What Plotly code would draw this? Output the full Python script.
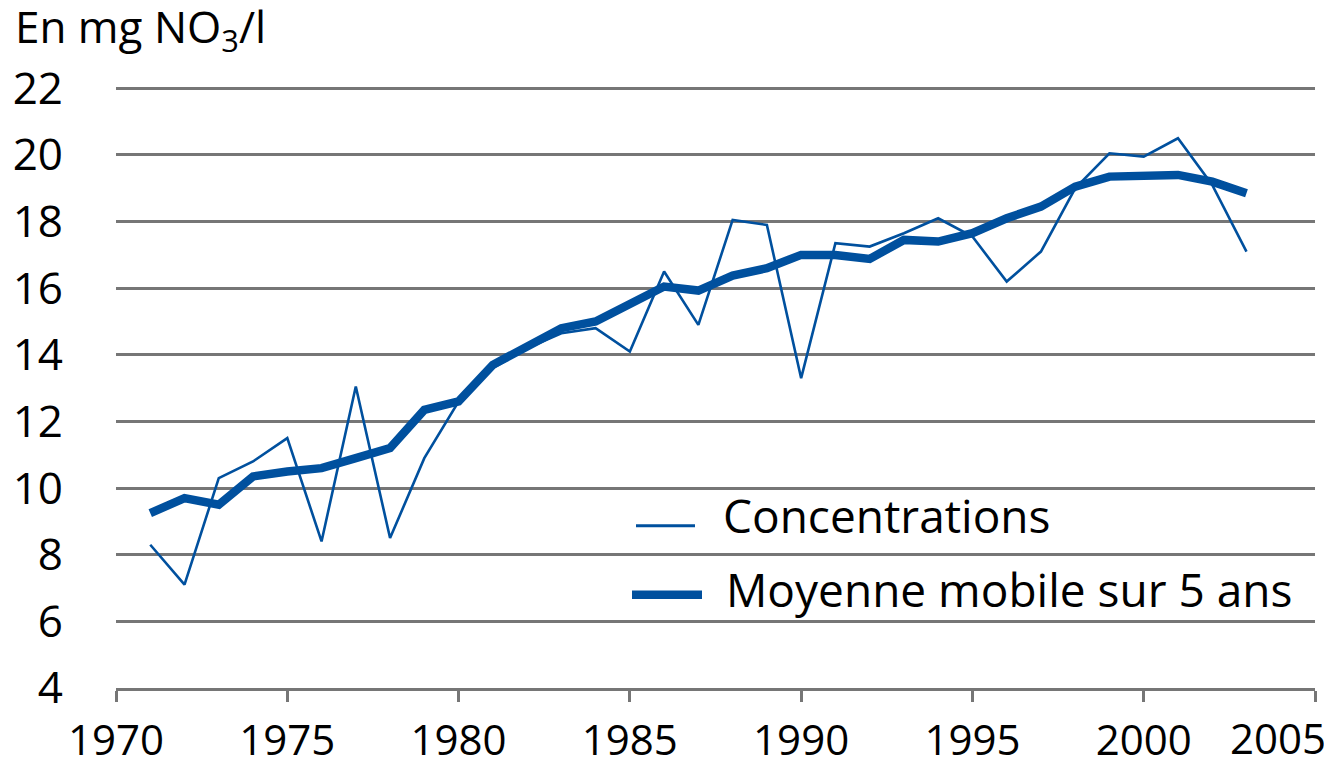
import plotly.graph_objects as go

years = list(range(1971, 2004))
concentrations = [8.3, 7.1, 10.3, 10.8, 11.5, 8.4, 13.05, 8.5, 10.9, 12.6,
                  13.6, 14.2, 14.65, 14.8, 14.1, 16.5, 14.9, 18.05, 17.9, 13.3,
                  17.35, 17.25, 17.65, 18.1, 17.55, 16.2, 17.1, 19.0, 20.05, 19.95,
                  20.5, 19.1, 17.1]
moyenne_mobile = [9.25, 9.7, 9.5, 10.35, 10.5, 10.6, 10.9, 11.2, 12.35, 12.6,
                  13.7, 14.25, 14.8, 15.0, 15.5, 16.05, 15.93, 16.38, 16.6, 17.0,
                  17.0, 16.88, 17.45, 17.4, 17.65, 18.1, 18.45, 19.05, 19.35, 19.35,
                  19.4, 19.2, 18.85]
x_ticks = [1970, 1975, 1980, 1985, 1990, 1995, 2000]
x_ticktext = ["1970", "1975", "1980", "1985", "1990", "1995", "2000"]
last_x_tick = 2005
last_x_label = "2005"
y_ticks = [4, 6, 8, 10, 12, 14, 16, 18, 20, 22]
series_names = ["Concentrations", "Moyenne mobile sur 5 ans"]
y_title = "En mg NO<sub>3</sub>/l"

BLUE = "#00509E"
GRID = "#767676"
FONT = "Open Sans"

# page body has an 8px margin: figure drawn at (8, 8) in the window
OFF = 8
FIG_W, FIG_H = 1332 - OFF, 770 - OFF

# plot area in figure pixels (screen target minus offset)
L = 116 - OFF
R = 1315 - OFF
Y22 = 88.3 - OFF
B = 688.3 - OFF
UNIT = (B - Y22) / 18.0
Y_TOP = 22.1
T = B - (Y_TOP - 4) * UNIT
W, H = R - L, B - T


def px(x_screen):
    return (x_screen - OFF - L) / W


def py(y_screen):
    return (B - (y_screen - OFF)) / H


fig = go.Figure()
fig.add_trace(go.Scatter(x=years, y=concentrations, mode="lines",
                         line=dict(color=BLUE, width=2.6), name=series_names[0],
                         showlegend=False, hoverinfo="skip"))
fig.add_trace(go.Scatter(x=years, y=moyenne_mobile, mode="lines",
                         line=dict(color=BLUE, width=8.5), name=series_names[1],
                         showlegend=False, hoverinfo="skip"))

fig.update_layout(
    width=FIG_W, height=FIG_H,
    margin=dict(l=L, r=FIG_W - R, t=T, b=FIG_H - B, autoexpand=False),
    paper_bgcolor="white", plot_bgcolor="white",
    font=dict(family=FONT, size=44, color="black"),
    showlegend=False,
)
fig.update_xaxes(range=[1970, 2005], tickvals=x_ticks, ticktext=x_ticktext,
                 automargin=False, ticklabeloverflow="allow",
                 showgrid=False, zeroline=False,
                 showline=True, linecolor=GRID, linewidth=3,
                 ticks="outside", ticklen=11, tickwidth=2.5, tickcolor=GRID,
                 ticklabelstandoff=3,
                 tickfont=dict(size=42),
                 minor=dict(tickvals=[last_x_tick], ticks="outside", ticklen=11,
                            tickwidth=2.5, tickcolor=GRID, showgrid=False))
fig.update_yaxes(range=[4, Y_TOP], tickvals=y_ticks, ticktext=[str(v) for v in y_ticks],
                 automargin=False,
                 showgrid=True, gridcolor=GRID, gridwidth=3, zeroline=False,
                 showline=False, ticks="", ticklabelstandoff=52,
                 tickfont=dict(size=44))

# last x label, kept inside the page as in the reference
fig.add_annotation(xref="x", yref="paper", x=last_x_tick, xshift=13, y=py(738),
                   xanchor="right", yanchor="middle", text=last_x_label, showarrow=False,
                   font=dict(size=42))

# axis title
fig.add_annotation(xref="paper", yref="paper", x=px(13), y=py(28),
                   xanchor="left", yanchor="middle", text=y_title, showarrow=False,
                   font=dict(size=44))

# legend (manual)
fig.add_shape(type="line", xref="paper", yref="paper",
              x0=px(636), x1=px(695), y0=py(526), y1=py(526),
              line=dict(color=BLUE, width=3))
fig.add_shape(type="line", xref="paper", yref="paper",
              x0=px(632), x1=px(702), y0=py(595), y1=py(595),
              line=dict(color=BLUE, width=8.5))
fig.add_annotation(xref="paper", yref="paper", x=px(721), y=py(515),
                   xanchor="left", yanchor="middle", text=series_names[0], showarrow=False,
                   font=dict(size=46))
fig.add_annotation(xref="paper", yref="paper", x=px(724), y=py(589),
                   xanchor="left", yanchor="middle", text=series_names[1], showarrow=False,
                   font=dict(size=46))

fig.write_html("out.html")
